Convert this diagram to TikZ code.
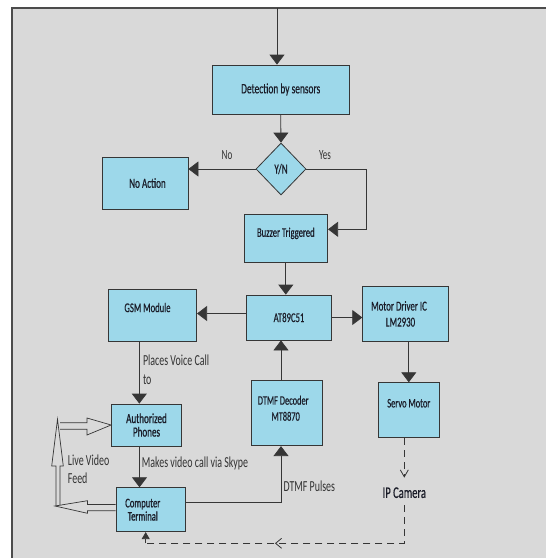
\documentclass[tikz,border=0pt]{standalone}
\usepackage{fontspec}
\setmainfont{Carlito}[FakeStretch=0.65]
\newfontfamily\boxfont{Carlito}[FakeStretch=0.65, FakeBold=0.4]
\newfontfamily\heavyfont{Carlito}[FakeStretch=0.65, FakeBold=0.9]
\usetikzlibrary{arrows.meta,shapes.geometric,decorations.markings}
\definecolor{bg}{HTML}{D9D9D9}
\definecolor{boxfill}{HTML}{9DD8EA}
\definecolor{ln}{HTML}{363636}
\definecolor{txt}{HTML}{1A1C28}
\definecolor{lbltxt}{HTML}{333333}
\begin{document}
\begin{tikzpicture}[x=1pt,y=-1pt,
  box/.style={draw=ln, line width=0.8pt, fill=boxfill, rectangle, inner sep=0pt, text=txt,
    font=\boxfont\fontsize{13.3}{16}\selectfont, align=center},
  arr/.style={draw=ln, line width=0.8pt, -{Triangle[length=10pt,width=15pt]}},
  lbl/.style={text=lbltxt, font=\fontsize{15.3}{19.3}\selectfont, align=left, inner sep=0pt},
  dsh/.style={draw=ln, line width=0.8pt, dash pattern=on 7pt off 5pt},
  hol/.style={draw=ln, line width=0.7pt, line join=miter}]
\useasboundingbox (0,0) rectangle (546,558);
\fill[white] (0,0) rectangle (546,558);
\fill[bg] (12,8) rectangle (546,558);
\draw[gray!60!black, line width=1.2pt] (12,558) -- (12,8) -- (546,8);

% boxes
\node[box, minimum width=137pt, minimum height=49pt, font=\boxfont\fontsize{14.4}{16}\selectfont] (det) at (280.7,89.5) {Detection by sensors};
\node[box, diamond, minimum width=50pt, minimum height=52pt, font=\boxfont\fontsize{14}{16}\selectfont] (yn) at (281,169) {Y/N};
\node[box, minimum width=86pt, minimum height=52pt, font=\boxfont\fontsize{14}{16}\selectfont] (noact) at (145,183) {\kern5pt No Action};
\node[box, minimum width=83.7pt, minimum height=48.3pt, font=\boxfont\fontsize{13.2}{16}\selectfont, text depth=12pt] (buzz) at (285.8,238.2) {Buzzer Triggered};
\node[box, minimum width=85pt, minimum height=45pt] (at89) at (289,317.5) {AT89C51};
\node[box, minimum width=88.7pt, minimum height=52.4pt, text depth=16pt] (gsm) at (152.3,315.5) {GSM Module\kern9.6pt};
\node[box, minimum width=85.6pt, minimum height=55.7pt, font=\boxfont\fontsize{13.6}{16}\selectfont] (motor) at (405.5,313.9) {Motor Driver IC\kern13pt\\LM2930\kern10pt};
\node[box, minimum width=61pt, minimum height=55pt, font=\boxfont\fontsize{13}{16}\selectfont, text depth=14pt] (servo) at (408.8,410.2) {Servo Motor};
\node[box, minimum width=71pt, minimum height=65pt, font=\boxfont\fontsize{12.9}{16}\selectfont, text depth=10pt] (dtmf) at (287.2,413.2) {DTMF Decoder\kern8pt\\MT8870\kern3pt};
\node[box, minimum width=70pt, minimum height=42pt, font=\heavyfont\fontsize{14}{13.5}\selectfont] (auth) at (146.5,425) {Authorized\\Phones};
\node[box, minimum width=69.7pt, minimum height=44pt, font=\heavyfont\fontsize{13.2}{13.2}\selectfont] (comp) at (150.8,509.7) {Computer\kern16pt\\Terminal\kern16pt};
\node[font=\boxfont\fontsize{16.2}{18}\selectfont, text=txt, inner sep=0pt] (ipcam) at (404.3,492.7) {IP Camera};

% labels
\node[lbl, font=\fontsize{14}{16}\selectfont] (lno) at (227,155) {No};
\node[lbl, font=\fontsize{14}{16}\selectfont] (lyes) at (325,155) {Yes};
\node[lbl, anchor=west] (lplace) at (142.8,369.7) {Places Voice Call\\to};
\node[lbl, anchor=west] (lmake) at (141.7,463.3) {Makes video call via Skype};
\node[lbl, font=\fontsize{15.3}{18.3}\selectfont, anchor=west] (llive) at (67.7,469.2) {Live Video\\Feed};
\node[lbl, anchor=west] (lpulse) at (283.3,486.7) {DTMF Pulses};

% connectors
\coordinate (start) at (277,8);
\draw[arr] (start) -- (start |- det.north);
\draw[arr] (det.south) -- (yn.north);
\draw[arr] (yn.west) -- (yn.west -| noact.east);
\coordinate (yesc) at (366.5,229.3);
\draw[arr] (yn.east) -| (yesc) -- (yesc -| buzz.east);
\draw[arr] (buzz.south) -- (buzz.south |- at89.north);
\coordinate (aw) at ([yshift=4pt]at89.west);
\draw[arr] (aw) -- (aw -| gsm.east);
\draw[arr] (at89.east) -- (at89.east -| motor.west);
\draw[arr] (servo.north |- motor.south) -- (servo.north);
\coordinate (dt) at ([xshift=-6.2pt]dtmf.north);
\draw[arr] (dt) -- (dt |- at89.south);
\coordinate (gs) at ([xshift=-13pt]gsm.south);
\draw[arr] (gs) -- (gs |- auth.north);
\coordinate (au) at ([xshift=-7pt]auth.south);
\draw[arr] (au) -- (au |- comp.north);
\coordinate (ce) at ([yshift=7pt]comp.east);
\coordinate (dtb) at ([xshift=-6.2pt]dtmf.south);
\draw[arr] (ce) -| (dtb);

% dashed camera feed
\draw[dsh, shorten >=9.5pt, -{Straight Barb[length=7pt,width=8pt]}] (servo.south -| ipcam) -- (ipcam.north);
\coordinate (dc) at (404.3,543.3);
\coordinate (dl) at (145.7,543.3);
\draw[dsh, shorten <=7pt] (ipcam.south) -- (dc) -- (dl);
\path[postaction={decorate}, decoration={markings, mark=at position 0.5 with {\arrow[ln, line width=0.8pt]{Straight Barb[length=6pt,width=10pt]}}}] (dc) -- (dl);
\draw[draw=ln, line width=0.8pt, -{Triangle[length=7pt,width=8pt]}] (dl) -- (dl |- comp.south);

% hollow live video feed arrows
\draw[hol] (comp.west |- 0,504.5) -- (87.5,504.5) -- (87.5,500.7) -- (55,506) -- (87.5,513.3) -- (87.5,510.7) -- (comp.west |- 0,510.7);
\draw[hol] (56,506) -- (56,466) -- (51.7,466) -- (57.5,419.3) -- (63.3,466) -- (60,466) -- (60,505);
\draw[hol] (60,422.7) -- (87,422.7) -- (87,418) -- (auth.west) -- (87,435) -- (87,429.3) -- (60,429.3);
\end{tikzpicture}
\end{document}
